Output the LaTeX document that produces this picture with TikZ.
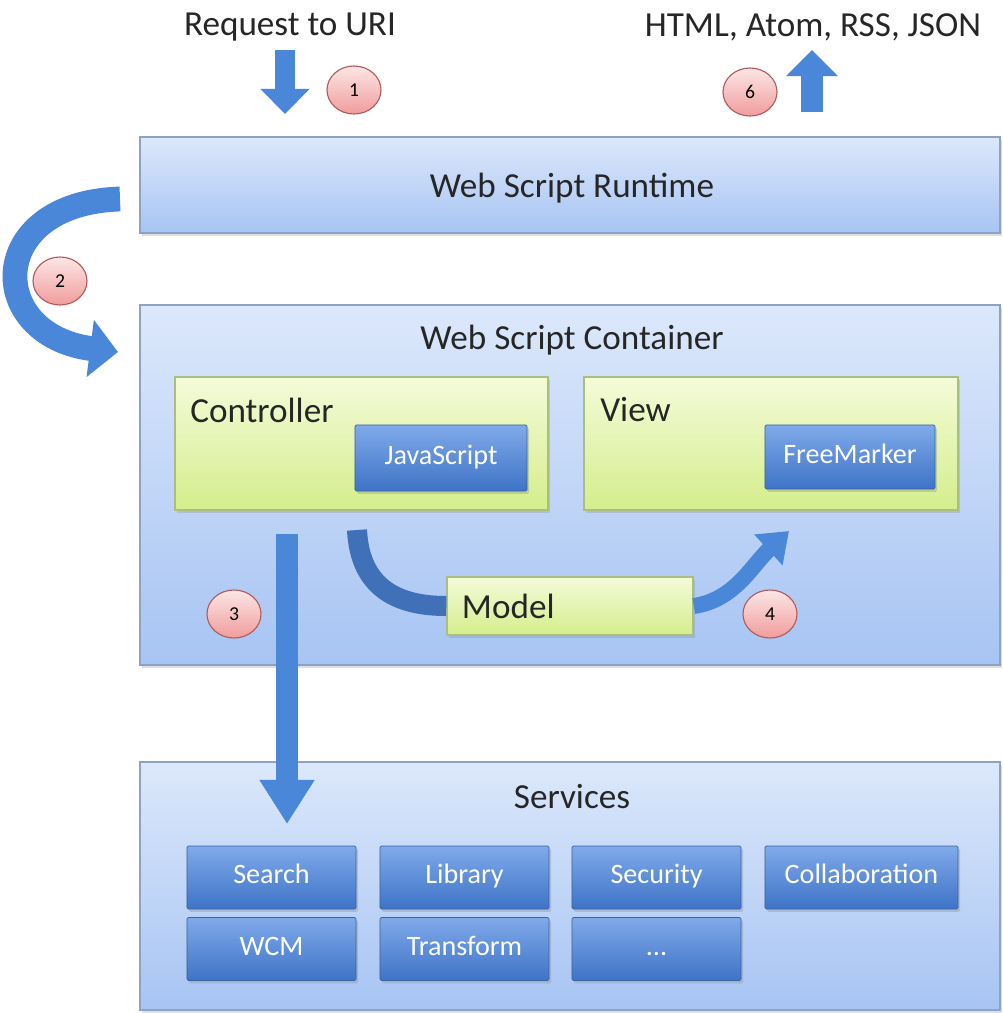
\documentclass[tikz,border=0pt]{standalone}
\usepackage{fontspec}
\setmainfont{Carlito}
\usetikzlibrary{fit,shadows,arrows.meta,shapes.geometric}

\definecolor{layerline}{HTML}{8DA3C4}
\definecolor{layertop}{HTML}{DCE8FB}
\definecolor{layerbot}{HTML}{A7C4F3}
\definecolor{partline}{HTML}{A9BF80}
\definecolor{parttop}{HTML}{F4FBD9}
\definecolor{partbot}{HTML}{D4EE8C}
\definecolor{techline}{HTML}{3C64A2}
\definecolor{techtop}{HTML}{80AAEA}
\definecolor{techbot}{HTML}{3E73C6}
\definecolor{flowblue}{HTML}{4A87D9}
\definecolor{flowdark}{HTML}{3F70B8}
\definecolor{marktop}{HTML}{FDE6E6}
\definecolor{markbot}{HTML}{F09C9C}
\definecolor{markline}{HTML}{B05C5C}

\tikzset{
  bigtext/.style={font=\fontsize{25}{30}\selectfont, text=black!85, inner sep=0pt},
  layer/.style={draw=layerline, line width=1.3pt, top color=layertop, bottom color=layerbot, inner sep=0pt,
    drop shadow={opacity=.25, shadow xshift=.6mm, shadow yshift=-.8mm}},
  part/.style={draw=partline, line width=1pt, top color=parttop, bottom color=partbot, inner sep=0pt,
    drop shadow={opacity=.25, shadow xshift=.6mm, shadow yshift=-.8mm}},
  tech/.style={draw=techline, line width=.6pt, rounded corners=1pt, top color=techtop, bottom color=techbot,
    text=white, font=\fontsize{20}{24}\selectfont, text height=1.05em, text depth=.15em,
    minimum height=1.575cm, inner sep=0pt,
    drop shadow={opacity=.3, shadow xshift=.5mm, shadow yshift=-.7mm}},
  stepmark/.style={ellipse, draw=markline, line width=.8pt, top color=marktop, bottom color=markbot,
    minimum width=1.35cm, minimum height=1.2cm, inner sep=0pt, font=\fontsize{14}{16}\selectfont},
  flow/.style={draw=flowblue, line width=.5cm, -{Triangle[width=1.25cm,length=.65cm]}},
}

\begin{document}
\begin{tikzpicture}[x=0.025cm, y=-0.025cm]
\fill[white] (0,0) rectangle (1002,1013);
\useasboundingbox (0,0) rectangle (1002,1013);

% layers
\node[layer, fit={(140,137) (1000,233)}] (runtime) {};
\node[bigtext] (runtimetxt) at (572,188) {Web Script Runtime};
\node[layer, fit={(140,305) (1000,665)}] (container) {};
\node[bigtext] (containertxt) at (572,340) {Web Script Container};
\node[layer, fit={(140,762) (1000,1010)}] (services) {};
\node[bigtext] (servicestxt) at (572,797) {Services};

% controller and view
\node[part, fit={(175,377) (548,510)}] (ctrl) {};
\node[bigtext, anchor=west] (ctrltxt) at (190,410) {Controller};
\node[tech, minimum width=4.3cm, minimum height=1.65cm] (js) at (441,458) {JavaScript};
\node[part, fit={(584,377) (958,510)}] (view) {};
\node[bigtext, anchor=west] (viewtxt) at (600,410) {View};
\node[tech, minimum width=4.25cm, minimum height=1.6cm] (fm) at (850,457) {FreeMarker};
\node[part, bigtext, minimum width=6.15cm, minimum height=1.45cm, text width=5.4cm, align=left,
  inner xsep=.375cm] (model) at (570,606) {Model};

% services
\foreach \nm/\txt/\cx/\cy/\boxw in {search/Search/271.5/877.5/4.225, library/Library/464.5/877.5/4.225,
  security/Security/656.5/877.5/4.225, collab/Collaboration/861.5/877.5/4.825,
  wcm/WCM/271.5/949/4.225, transform/Transform/464.5/949/4.225}
  \node[tech, minimum width=\boxw cm] (\nm) at (\cx,\cy) {\txt};
\node[tech, minimum width=4.225cm] (more) at (656.5,949) {...};

% request and response
\node[bigtext] (request) at (290,27) {Request to URI};
\node[bigtext] (response) at (813,27) {HTML, Atom, RSS, JSON};
\coordinate (reqtop) at (285,50);
\coordinate (reqtip) at (285,114);
\draw[flow, -{Triangle[width=1.2cm,length=.63cm]}] (reqtop) -- (reqtip);
\coordinate (restop) at (812,50);
\coordinate (resbot) at (812,112);
\draw[flow, line width=.55cm] (resbot) -- (restop);

% runtime to container
\coordinate (hand) at (120,199);
\coordinate (handtip) at (118,352);
\draw[flow, line width=.62cm, -{Triangle[width=1.4cm,length=.7cm]}]
  (hand) .. controls (-15,203) and (-15,335) .. (handtip);

% controller to model to view
\coordinate (jsout) at (357,530);
\draw[draw=flowdark, line width=.5cm] (jsout) .. controls (360,590) and (400,606) .. (model.west);
\coordinate (viewin) at (789,531);
\draw[flow, line width=.4cm, -{Triangle[width=1cm,length=.7cm]}]
  (model.east) .. controls (735,600) and (752,565) .. (viewin);

% controller to services
\coordinate (ctrlout) at (287,534);
\coordinate (svcin) at (287,824);
\draw[flow, line width=.55cm, -{Triangle[width=1.3cm,length=1.1cm]}] (ctrlout) -- (svcin);

% steps
\node[stepmark] (s1) at (354,90) {1};
\node[stepmark] (s2) at (60,281) {2};
\node[stepmark] (s3) at (234,614) {3};
\node[stepmark] (s4) at (770,614) {4};
\node[stepmark] (s6) at (750,92) {6};
\end{tikzpicture}
\end{document}
